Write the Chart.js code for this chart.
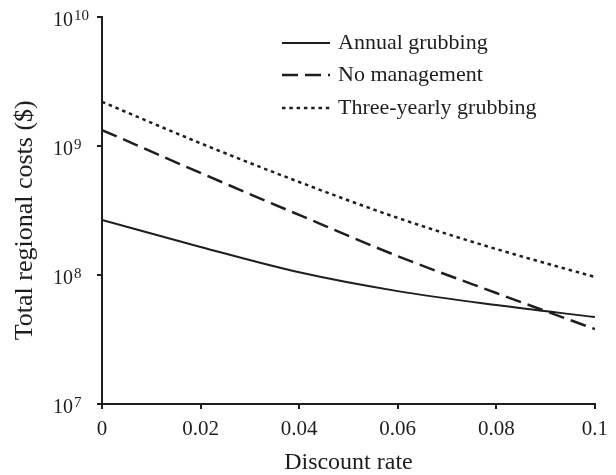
<!DOCTYPE html>
<html>
<head>
<meta charset="utf-8">
<script src="https://cdn.jsdelivr.net/npm/chart.js@4"></script>
<style>
  html, body { margin: 0; padding: 0; background: #fff; }
</style>
</head>
<body>
<canvas id="myChart" width="616" height="475"></canvas>
<script>
// values
const rates = [0, 0.02, 0.04, 0.06, 0.08, 0.1];
const annual = [2.67e8, 1.65e8, 1.05e8, 7.5e7, 5.85e7, 4.72e7];
const noManagement = [1.33e9, 6.18e8, 2.92e8, 1.40e8, 7.25e7, 3.81e7];
const threeYearly = [2.2e9, 1.05e9, 5.26e8, 2.77e8, 1.59e8, 9.65e7];
const seriesNames = ['Annual grubbing', 'No management', 'Three-yearly grubbing'];

const xTicks = [0, 0.02, 0.04, 0.06, 0.08, 0.1];
const xTickLabels = ['0', '0.02', '0.04', '0.06', '0.08', '0.1'];
const yTicks = [1e7, 1e8, 1e9, 1e10];
const yExponents = ['7', '8', '9', '10'];

const ink = '#1e1e1e';
const serif = 'Liberation Serif, Times New Roman, serif';

const toPoints = vals => rates.map((r, i) => ({x: r, y: vals[i]}));

// y tick labels as 10 with a raised exponent
const powerLabels = {
    id: 'powerLabels',
    afterDraw(chart) {
        const ctx = chart.ctx;
        const y = chart.scales.y;
        ctx.save();
        ctx.fillStyle = ink;
        ctx.textAlign = 'left';
        ctx.textBaseline = 'middle';
        yTicks.forEach((v, i) => {
            const py = y.getPixelForValue(v);
            ctx.font = '20px ' + serif;
            ctx.fillText('10', 53, py + 4);
            const w = ctx.measureText('10').width;
            ctx.font = '15px ' + serif;
            ctx.fillText(yExponents[i], 54 + w, py - 1);
        });
        ctx.restore();
    }
};

// legend inside the plot, line samples drawn with each dataset's own style
const lineLegend = {
    id: 'lineLegend',
    afterDraw(chart) {
        const ctx = chart.ctx;
        const rows = [43, 75, 108];
        ctx.save();
        chart.data.datasets.forEach((ds, i) => {
            ctx.strokeStyle = ds.borderColor;
            ctx.lineWidth = ds.borderWidth;
            ctx.setLineDash(ds.borderDash || []);
            ctx.beginPath();
            ctx.moveTo(282, rows[i]);
            ctx.lineTo(330, rows[i]);
            ctx.stroke();
            ctx.setLineDash([]);
            ctx.fillStyle = ink;
            ctx.font = '22px ' + serif;
            ctx.textAlign = 'left';
            ctx.textBaseline = 'middle';
            ctx.fillText(ds.label, 338, rows[i]);
        });
        ctx.restore();
    }
};

new Chart(document.getElementById('myChart'), {
    type: 'line',
    data: {
        datasets: [{
            label: seriesNames[0],
            data: toPoints(annual),
            borderColor: ink,
            borderWidth: 2,
            borderDash: []
        },
        {
            label: seriesNames[1],
            data: toPoints(noManagement),
            borderColor: ink,
            borderWidth: 2.5,
            borderDash: [16, 7]
        },
        {
            label: seriesNames[2],
            data: toPoints(threeYearly),
            borderColor: ink,
            borderWidth: 2.5,
            borderDash: [3.5, 3.8]
        }]
    },
    options: {
        responsive: false,
        animation: false,
        devicePixelRatio: 1,
        layout: {padding: {left: 0, right: 18, top: 17, bottom: 0}},
        elements: {
            point: {radius: 0},
            line: {cubicInterpolationMode: 'monotone', fill: false}
        },
        plugins: {
            legend: {display: false},
            tooltip: {enabled: false}
        },
        scales: {
            x: {
                type: 'linear',
                min: 0,
                max: 0.1,
                afterBuildTicks: s => { s.ticks = xTicks.map(v => ({value: v})); },
                afterFit: s => { s.height = 71; },
                ticks: {
                    callback: (v, i) => xTickLabels[i],
                    font: {family: serif, size: 21},
                    color: ink,
                    padding: 8,
                    maxRotation: 0,
                    autoSkip: false
                },
                grid: {drawOnChartArea: false, tickLength: 5, color: ink, lineWidth: 2},
                border: {color: ink, width: 2},
                title: {
                    display: true,
                    text: 'Discount rate',
                    font: {family: serif, size: 24, lineHeight: 1},
                    color: ink,
                    padding: {top: 0, bottom: 0}
                }
            },
            y: {
                type: 'logarithmic',
                min: 1e7,
                max: 1e10,
                afterBuildTicks: s => { s.ticks = yTicks.map(v => ({value: v})); },
                afterFit: s => { s.width = 102; },
                ticks: {
                    callback: () => '',
                    font: {family: serif, size: 20}
                },
                grid: {drawOnChartArea: false, tickLength: 5, color: ink, lineWidth: 2},
                border: {color: ink, width: 2},
                title: {
                    display: true,
                    // trailing spaces nudge the rotated title a little lower, as in the original
                    text: 'Total regional costs ($)   ',
                    font: {family: serif, size: 26, lineHeight: 1},
                    color: ink,
                    padding: {top: 12, bottom: 0}
                }
            }
        }
    },
    plugins: [powerLabels, lineLegend]
});
</script>
</body>
</html>
